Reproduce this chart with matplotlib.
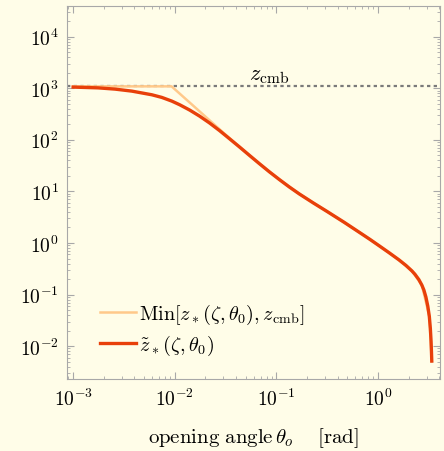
import matplotlib
matplotlib.use("Agg")
import matplotlib.pyplot as plt

plt.rcParams['mathtext.fontset'] = 'cm'
plt.rcParams['font.family'] = 'serif'
plt.rcParams['font.serif'] = ['DejaVu Serif']

theta_red = [0.001, 0.001758, 0.002582, 0.003784, 0.005957, 0.007464, 0.009354,
             0.01119, 0.01403, 0.01758, 0.02203, 0.02761, 0.03459, 0.04335,
             0.05433, 0.06808, 0.08531, 0.1069, 0.1340, 0.1679, 0.2307, 0.3162,
             0.4645, 0.6808, 0.8356, 1.023, 1.282, 1.607, 1.884, 2.153, 2.307,
             2.523, 2.698, 2.825, 2.958, 3.090, 3.199, 3.273, 3.327, 3.357, 3.381]
z_red = [1054, 1019, 964, 881, 748, 665, 564,
         479, 378, 288, 212, 151, 105, 72.8,
         50.0, 34.5, 24.0, 17.0, 12.2, 8.95, 5.98, 4.07,
         2.52, 1.53, 1.17, 0.887, 0.650, 0.471, 0.367, 0.288, 0.248,
         0.195, 0.153, 0.123, 0.0899, 0.0594, 0.0375, 0.0221, 0.0124, 0.00783, 0.00513]

# Min[z*, z_cmb]: flat at z_cmb, power law, then on top of the red curve
theta_orange = [0.001, 0.0093, 0.03459, 0.04335, 0.05433, 0.06808, 0.08531, 0.1069,
                0.1679, 0.3162, 0.6808, 1.023, 1.607, 2.153, 2.698, 3.199, 3.381]
z_orange = [1090, 1090, 108, 72.8, 50.0, 34.5, 24.0, 17.0,
            8.95, 4.07, 1.53, 0.887, 0.471, 0.288, 0.153, 0.0375, 0.00513]

z_cmb = 1090

xticks = [1e-3, 1e-2, 1e-1, 1e0]
xtick_labels = [r'$10^{-3}$', r'$10^{-2}$', r'$10^{-1}$', r'$10^{0}$']
yticks = [1e-2, 1e-1, 1e0, 1e1, 1e2, 1e3, 1e4]
ytick_labels = [r'$10^{-2}$', r'$10^{-1}$', r'$10^{0}$', r'$10^{1}$',
                r'$10^{2}$', r'$10^{3}$', r'$10^{4}$']

bg = '#fffde8'
frame = '#a8a8a8'

fig = plt.figure(figsize=(4.44, 4.52), dpi=100, facecolor=bg)
ax = fig.add_axes([0.151, 0.159, 0.84, 0.826], facecolor=bg)

ax.axhline(z_cmb, color='#7a7a7a', lw=1.6, ls=(0, (1.5, 1.5)), zorder=1)
ax.plot(theta_orange, z_orange, color='#ffc98a', lw=1.8,
        label=r'$\mathrm{Min}[z_*(\zeta,\theta_0),z_{\rm cmb}]$', zorder=2)
ax.plot(theta_red, z_red, color='#e8400a', lw=2.4, solid_joinstyle='round',
        label=r'$\tilde{z}_*(\zeta,\theta_0)$', zorder=3)

ax.text(0.085, 1500, r'$z_{\rm cmb}$', fontsize=16, ha='center', va='baseline')

ax.set_xscale('log')
ax.set_yscale('log')
ax.set_xlim(10**-3.06, 10**0.61)
ax.set_ylim(10**-2.64, 10**4.6)
ax.set_xticks(xticks)
ax.set_xticklabels(xtick_labels)
ax.set_yticks(yticks)
ax.set_yticklabels(ytick_labels)

for s in ax.spines.values():
    s.set_color(frame)
ax.tick_params(which='both', direction='in', top=True, right=True, color=frame,
               labelsize=14, pad=6)
ax.tick_params(which='major', length=5)
ax.tick_params(which='minor', length=2.5)

ax.set_xlabel(r'$\mathrm{opening\ angle}\,\theta_o\quad\ [\mathrm{rad}]$', fontsize=15,
              labelpad=12)

leg = ax.legend(loc='lower left', bbox_to_anchor=(0.04, 0.01), frameon=False,
                fontsize=14.5, handlelength=1.8, handletextpad=0.15, labelspacing=0.35)

fig.savefig('out.png', dpi=100, facecolor=bg)
